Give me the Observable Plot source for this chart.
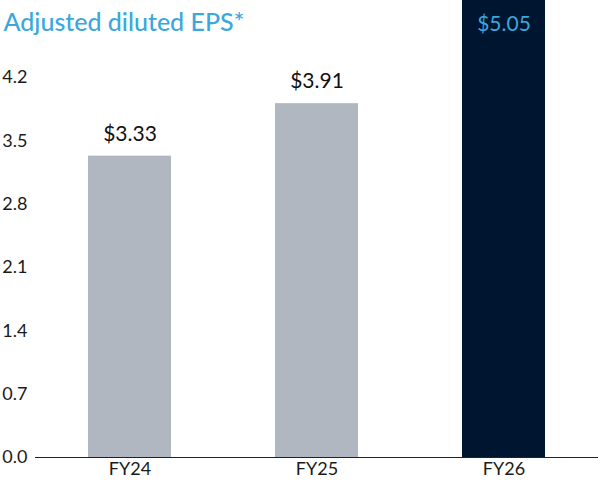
<!DOCTYPE html>
<html><head><meta charset="utf-8">
<script src="https://cdn.jsdelivr.net/npm/d3@7"></script>
<script src="https://cdn.jsdelivr.net/npm/@observablehq/plot@0.6"></script>
<style>body{margin:0;background:#fff;} svg{display:block;}</style>
</head><body><div id="chart"></div>
<script>
const categories = ["FY24", "FY25", "FY26"];
const values = [3.33, 3.91, 5.05];
const labels = ["$3.33", "$3.91", "$5.05"];
const yTicks = [0, 0.7, 1.4, 2.1, 2.8, 3.5, 4.2];
const title = "Adjusted diluted EPS*";

const data = categories.map((c, i) => ({cat: c, value: values[i], label: labels[i], last: i === categories.length - 1}));
const blue = "#3aa7dd";

const chart = Plot.plot({
  width: 598, height: 486,
  marginTop: 0, marginBottom: 29, marginLeft: 35, marginRight: 0,
  style: {fontFamily: "Lato, sans-serif", fontSize: "18px", color: "#1a1a1a", background: "#fff"},
  x: {domain: categories, padding: 0, label: null, tickSize: 0, tickPadding: 5},
  y: {domain: [0, 5.05], ticks: yTicks, tickFormat: d3.format(".1f"), label: null, tickSize: 0, tickPadding: 8},
  marks: [
    Plot.barY(data, {x: "cat", y: "value", fill: d => d.last ? "#001630" : "#b0b7c1", insetLeft: 52, insetRight: 52}),
    Plot.ruleY([0], {stroke: "#222", strokeWidth: 1.2}),
    Plot.text(data.filter(d => !d.last), {x: "cat", y: "value", text: "label", dy: -22, fill: "#111", fontSize: 21, lineAnchor: "middle"}),
    Plot.text(data.filter(d => d.last), {x: "cat", y: "value", text: "label", dy: 24, fill: blue, fontSize: 21, lineAnchor: "middle"}),
    Plot.text([title], {frameAnchor: "top-left", dx: -32, dy: 22, text: d => d, fill: blue, fontSize: 25, textAnchor: "start", lineAnchor: "middle", fontWeight: 500})
  ]
});
document.getElementById("chart").appendChild(chart);
</script></body></html>
